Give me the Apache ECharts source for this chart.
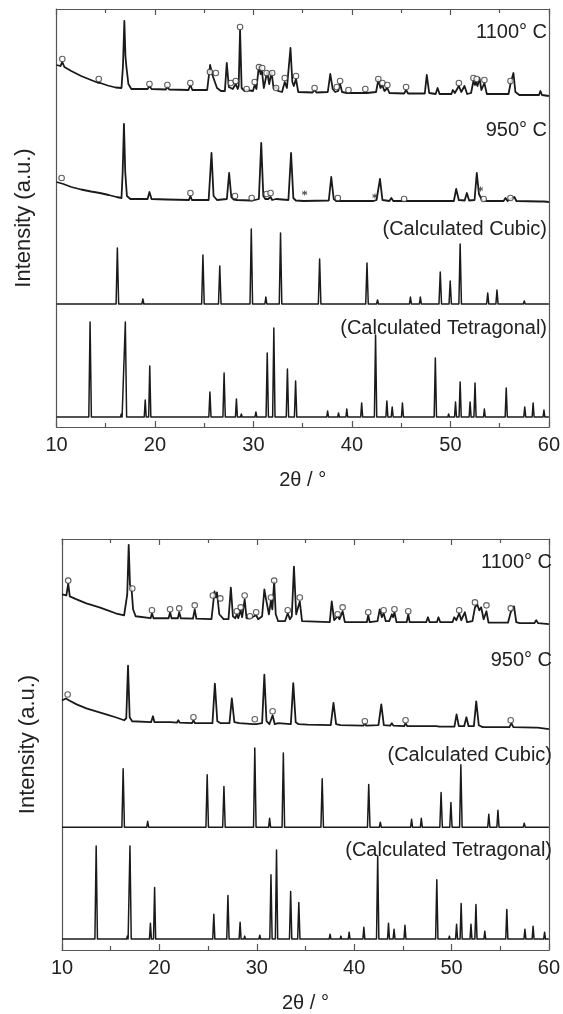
<!DOCTYPE html>
<html>
<head>
<meta charset="utf-8">
<title>XRD patterns</title>
<script src="https://cdn.jsdelivr.net/npm/echarts@6/dist/echarts.min.js"></script>
<style>
  html, body { margin: 0; padding: 0; background: #fff; overflow: hidden; }
  #chart { width: 563px; height: 1014px; }
</style>
</head>
<body>
<div id="chart"></div>
<script>
// ---- Axis ticks (2θ in degrees) ----
const X_MIN = 10;
const X_MAX = 60;
const X_STEP = 10;

// ---- Upper panel: traces as [2θ, intensity (a.u.)] vertices ----
const obs1100_A = [
  [10.0,31],[10.4,30],[10.59,34],[10.8,29],[11.5,25],[12.5,20],[13.5,16],[14.15,13.5],[14.3,15],[14.45,13],[15.2,10.5],[16.0,8.5],[16.6,8],[16.75,30],[16.89,75],[17.0,40],[17.1,29],[17.3,12],[17.6,7],
  [19.25,7],[19.44,10],[19.65,7],[21.1,6.5],[21.26,9],[21.45,6.5],[23.4,6],[23.59,11],[23.8,6],
  [25.3,6],[25.6,31],[25.8,22],[26.0,24],[26.3,8],[26.7,5],[27.1,5],[27.29,33],[27.5,9],[27.7,11],[27.9,7],[28.2,12],[28.4,7],[28.5,10],[28.64,66],[28.8,8],[29.1,5],[29.31,6],[29.5,4.5],[29.95,5],[30.12,11],[30.3,7],[30.56,31],[30.72,22],[30.85,26],[31.05,8],[31.39,24],[31.6,12],[31.84,24],[32.05,7],[32.3,9],[32.5,5],[32.9,4],[33.18,14],[33.4,8],[33.6,10],[33.76,48],[33.95,14],[34.1,10],[34.32,17],[34.55,4],
  [36.0,3.5],[36.2,6],[36.4,3.5],[37.55,4],[37.8,22],[38.05,7],[38.3,4],[38.46,6],[38.6,5],[38.8,12],[39.0,4],[39.5,3],[39.65,5],[39.8,3],
  [41.2,3],[41.36,5],[41.5,3],[42.45,4],[42.68,16],[42.9,8],[43.08,11],[43.3,5],[43.6,8],[43.8,3],[45.3,2.5],[45.5,6],[45.7,2.5],[47.4,2.5],[47.6,21],[47.85,3],[48.5,2],[48.7,8],[48.9,2],
  [50.1,2],[50.25,6],[50.45,3],[50.86,10],[51.1,4],[51.43,10],[51.7,2],[52.1,3],[52.34,15],[52.5,11],[52.6,14],[52.75,10],[52.95,18],[53.15,6],[53.45,13],[53.7,2],
  [55.9,2],[56.1,12],[56.25,10],[56.4,23],[56.6,4],[57.0,1],[59.0,1],[59.14,5],[59.3,1],[60.0,0]
];
const obs950_A = [
  [10.0,20],[10.35,19],[10.52,21],[10.7,18],[11.5,15],[12.5,12.5],[13.5,10.5],[14.4,9],[15.3,7],[16.1,5],[16.6,4],[16.72,30],[16.85,78],[16.98,30],[17.15,6],[17.5,3],
  [19.25,3],[19.44,10],[19.65,3],[21.2,2.5],[21.3,3.5],[21.4,2.5],[23.45,2],[23.6,6],[23.75,2],
  [25.45,2],[25.74,49],[25.95,6],[26.3,2],[27.3,3],[27.53,29],[27.75,5],[28.0,2.5],[28.13,3],[28.3,2],[29.7,1.5],[29.82,2.5],[29.95,1.5],[30.55,3],[30.79,59],[31.0,6],[31.2,3],[31.33,5],[31.5,3],[31.74,5],[31.9,2],[32.3,3],[32.5,1],[33.55,2],[33.82,49],[34.05,4],[34.3,1.5],
  [35.1,1],[35.2,3],[35.3,1],[37.65,1.5],[37.9,25],[38.15,3],[38.4,1],[38.57,2],[38.75,1],
  [42.2,1],[42.34,3],[42.5,2],[42.85,23],[43.1,2],[43.8,1],[44.0,4],[44.2,1],[45.2,1],[45.3,2],[45.45,1],[47.3,1],[47.4,3],[47.55,1],[48.3,1],[48.4,3],[48.55,1],
  [50.35,1],[50.59,13],[50.85,2],[51.45,1.5],[51.67,9],[51.9,1.5],[52.45,2],[52.68,29],[52.9,8],[53.05,6],[53.2,2],[53.38,2.5],[53.6,1],
  [55.4,1],[55.6,4],[55.8,1],[56.1,3],[56.5,5],[56.7,1],[59.1,0.5],[59.3,2],[59.5,0.5],[60.0,0]
];
const calcCubic_A = [
  [10,0],[16.05,0],[16.18,56],[16.31,0],[18.67,0],[18.77,5],[18.87,0],[24.74,0],[24.87,49],[25.0,0],[26.45,0],[26.58,38],[26.71,0],
  [29.65,0],[29.78,75],[29.91,0],[31.16,0],[31.26,7],[31.36,0],[32.62,0],[32.75,71],[32.88,0],[34.0,0],[34.09,1.5],[34.18,0],
  [36.59,0],[36.72,45],[36.85,0],[37.87,0],[37.95,1.5],[38.03,0],[41.4,0],[41.53,41],[41.66,0],[42.5,0],[42.6,4],[42.7,0],
  [45.84,0],[45.94,7],[46.04,0],[46.85,0],[46.95,7],[47.05,0],[48.84,0],[48.97,32],[49.1,0],[49.86,0],[49.98,23],[50.1,0],
  [50.86,0],[50.99,60],[51.12,0],[53.68,0],[53.79,11],[53.9,0],[54.62,0],[54.73,14],[54.84,0],[57.4,0],[57.5,3],[57.6,0],
  [58.52,0],[58.6,1],[58.68,0],[60,0]
];
const calcTetra_A = [
  [10,0],[13.28,0],[13.41,95],[13.54,0],[16.5,0],[16.58,3],[16.66,0],[16.86,0],[16.99,95],[17.12,0],[18.91,0],[19.01,17],[19.11,0],
  [19.36,0],[19.47,51],[19.58,0],[25.47,0],[25.58,25],[25.69,0],[26.9,0],[27.02,44],[27.14,0],[28.17,0],[28.27,18],[28.37,0],
  [28.69,0],[28.77,3],[28.85,0],[30.16,0],[30.25,5],[30.34,0],[31.28,0],[31.4,64],[31.52,0],[31.95,0],[32.07,89],[32.19,0],
  [33.33,0],[33.45,48],[33.57,0],[34.16,0],[34.28,36],[34.4,0],[37.44,0],[37.53,6],[37.62,0],[38.56,0],[38.64,4],[38.72,0],
  [39.39,0],[39.48,8],[39.57,0],[40.89,0],[40.99,14],[41.09,0],[42.28,0],[42.4,82],[42.52,0],[43.45,0],[43.55,16],[43.65,0],
  [43.99,0],[44.09,10],[44.19,0],[45.03,0],[45.13,14],[45.23,0],[48.35,0],[48.47,59],[48.59,0],[49.74,0],[49.82,3],[49.9,0],
  [50.42,0],[50.52,15],[50.62,0],[50.88,0],[50.99,35],[51.1,0],[51.9,0],[52.0,15],[52.1,0],[52.39,0],[52.5,34],[52.61,0],
  [53.36,0],[53.45,8],[53.54,0],[55.56,0],[55.67,29],[55.78,0],[57.45,0],[57.55,10],[57.65,0],[58.3,0],[58.4,14],[58.5,0],
  [59.41,0],[59.5,7],[59.59,0],[60,0]
];
// Phase markers, [2θ, intensity]
const rings1100_A = [[10.59,37],[14.29,17],[19.44,12],[21.26,11],[23.59,13],[25.58,24],[26.18,23],[27.7,13],[28.2,15],[28.64,69],[29.31,7],[30.12,14],[30.56,29],[30.89,28],[31.33,23],[31.9,23],[32.3,8],[33.18,18],[34.32,20],[36.21,8],[38.46,9],[38.8,15],[39.65,6],[41.36,7],[42.68,17],[43.1,13],[43.6,11],[45.5,9],[50.86,13],[52.34,18],[52.67,17],[53.45,16],[56.1,15]];
const rings950_A = [[10.52,24],[23.6,9],[28.13,6],[29.82,4],[31.33,8],[31.74,9],[38.57,4],[45.3,3],[53.38,3],[56.1,4]];
const stars950_A = [[35.2,9],[42.34,6],[53.05,13]];

// ---- Lower panel ----
const obs1100_B = [
  [10.0,30],[10.45,29],[10.64,41],[10.8,28],[11.5,25],[12.5,21],[13.85,17],[14.7,14],[15.5,11],[16.38,9],[16.7,30],[16.85,80],[16.98,40],[17.15,35],[17.3,15],[17.56,8],
  [19.1,6],[19.24,11],[19.4,6],[20.95,6],[21.1,12],[21.25,6],[21.9,6],[22.04,12],[22.2,6],[23.45,5.5],[23.63,15],[23.8,5.5],
  [25.35,5],[25.66,33],[25.8,27],[25.92,32],[26.15,10],[26.6,5],[27.1,5],[27.34,37],[27.55,8],[27.8,6],[27.95,10],[28.1,6],[28.35,14],[28.5,7],[28.76,25],[28.95,6],[29.3,6],[29.5,4],[29.94,9],[30.15,5],[30.55,8],[30.78,35],[30.92,27],[31.05,28],[31.25,10],[31.46,24],[31.6,15],[31.79,43],[31.95,10],[32.2,3],[32.9,3],[33.18,11],[33.4,5],[33.6,8],[33.82,58],[34.05,10],[34.2,9],[34.42,23],[34.65,3],
  [37.5,2],[37.7,23],[37.95,4],[38.31,8],[38.5,5],[38.82,13],[39.05,2],[41.3,2],[41.45,9],[41.6,2],[42.4,3],[42.63,15],[42.85,7],[43.03,11],[43.25,3],[43.6,3],[43.88,10],[44.0,7],[44.14,12],[44.35,2],[45.4,2],[45.56,10],[45.7,2],
  [47.4,2],[47.58,7],[47.75,2],[48.5,2],[48.66,7],[48.85,2],[50.1,2],[50.28,7],[50.5,4],[50.79,11],[51.0,4],[51.37,12],[51.6,2],[52.15,3],[52.41,17],[52.64,20],[52.85,14],[53.05,17],[53.3,5],[53.59,13],[53.8,1.5],
  [55.8,1.5],[56.08,12],[56.25,11],[56.42,18],[56.65,2],[57.0,1],[58.5,1],[58.7,4],[58.9,1],[60.0,0]
];
const obs950_B = [
  [10.0,29],[10.4,31],[10.58,33],[10.75,29],[11.5,25],[12.5,21],[13.85,17],[14.7,14.5],[15.5,12],[16.38,9],[16.6,11],[16.78,64],[16.95,12],[17.2,8],
  [19.15,7],[19.34,13],[19.5,7],[20.9,7],[21.03,9],[21.15,7],[21.8,6.5],[21.94,9],[22.1,6.5],[23.35,6],[23.5,9],[23.65,6],
  [25.45,6],[25.7,46],[25.95,8],[26.3,6],[27.2,6],[27.44,31],[27.7,7],[28.2,6],[29.65,5],[29.8,7],[29.95,5],[30.55,6],[30.78,55],[31.0,8],[31.3,5],[31.63,14],[31.85,5],[32.2,6],[32.4,4],[33.5,5],[33.75,46.5],[34.0,7],[34.3,5],
  [35.2,4.5],[37.6,4],[37.88,26.5],[38.15,5],[38.6,4],[40.95,3.5],[41.1,6],[41.25,3.5],[42.5,4],[42.79,25],[43.05,4],[43.7,3.5],[43.87,6],[44.05,3.5],[45.15,3],[45.28,6],[45.45,3],[47.3,3],[47.42,5],[47.55,3],[48.45,3],[48.6,5],[48.75,2.5],
  [50.3,2.5],[50.52,15],[50.75,3],[51.3,3],[51.53,12],[51.75,3],[52.3,3],[52.54,28],[52.8,4],[53.2,2],[55.2,2],[55.34,4],[55.5,2],[55.95,2],[56.15,6],[56.35,2],[58.55,1.5],[58.7,3],[58.85,1.5],[60.0,0]
];
const calcCubic_B = [
  [10,0],[16.15,0],[16.28,59],[16.41,0],[18.7,0],[18.8,6],[18.9,0],[24.78,0],[24.91,53],[25.04,0],[26.5,0],[26.63,41],[26.76,0],
  [29.67,0],[29.8,80],[29.93,0],[31.22,0],[31.32,9],[31.42,0],[32.6,0],[32.73,75],[32.86,0],[33.99,0],[34.08,1.5],[34.17,0],
  [36.59,0],[36.72,49],[36.85,0],[37.89,0],[37.97,1.5],[38.05,0],[41.37,0],[41.5,43],[41.63,0],[42.59,0],[42.69,5],[42.79,0],
  [43.62,0],[43.7,1],[43.78,0],[45.8,0],[45.9,8],[46.0,0],[46.8,0],[46.9,9],[47.0,0],[48.8,0],[48.93,35],[49.06,0],
  [49.82,0],[49.94,25],[50.06,0],[50.83,0],[50.96,63],[51.09,0],[53.72,0],[53.83,13],[53.94,0],[54.66,0],[54.77,17],[54.88,0],
  [55.6,0],[55.68,1.5],[55.76,0],[57.37,0],[57.47,4],[57.57,0],[58.47,0],[58.55,1],[58.63,0],[60,0]
];
const calcTetra_B = [
  [10,0],[13.38,0],[13.51,94],[13.64,0],[16.63,0],[16.71,3],[16.79,0],[16.85,0],[16.98,94],[17.11,0],[18.98,0],[19.08,16],[19.18,0],
  [19.4,0],[19.51,52],[19.62,0],[25.48,0],[25.59,25],[25.7,0],[26.92,0],[27.04,44],[27.16,0],[28.19,0],[28.29,17],[28.39,0],
  [28.68,0],[28.76,3],[28.84,0],[30.22,0],[30.31,4],[30.4,0],[31.34,0],[31.46,65],[31.58,0],[31.91,0],[32.03,90],[32.15,0],
  [33.36,0],[33.48,48],[33.6,0],[34.2,0],[34.32,37],[34.44,0],[37.44,0],[37.53,5],[37.62,0],[38.56,0],[38.64,3],[38.72,0],
  [39.4,0],[39.49,7],[39.58,0],[40.9,0],[41.0,12],[41.1,0],[42.3,0],[42.42,84],[42.54,0],[43.43,0],[43.53,16],[43.63,0],
  [44.0,0],[44.1,10],[44.2,0],[45.12,0],[45.22,14],[45.32,0],[48.37,0],[48.49,60],[48.61,0],[49.7,0],[49.78,3],[49.86,0],
  [50.42,0],[50.52,15],[50.62,0],[50.88,0],[50.99,36],[51.1,0],[51.9,0],[52.0,15],[52.1,0],[52.4,0],[52.51,35],[52.62,0],
  [53.33,0],[53.42,8],[53.51,0],[55.57,0],[55.68,30],[55.79,0],[57.44,0],[57.54,10],[57.64,0],[58.28,0],[58.38,13],[58.48,0],
  [59.47,0],[59.56,7],[59.65,0],[60,0]
];
const rings1100_B = [[10.64,44],[17.22,36],[19.24,14],[21.1,15],[22.04,16],[23.63,19],[25.49,29],[26.26,26],[27.95,13],[28.35,17],[28.76,29],[29.3,8],[29.94,12],[31.46,27],[31.79,44],[33.18,14],[34.42,27],[38.31,10],[38.82,17],[41.45,12],[43.03,14],[44.14,15],[45.56,13],[50.79,14],[52.41,22],[53.59,19],[56.08,16]];
const rings950_B = [[10.58,35],[23.5,12],[29.8,10],[31.63,18],[41.1,8],[45.28,9],[56.08,9]];

// ---- Trace labels ----
const traceLabels = ['1100° C', '950° C', '(Calculated Cubic)', '(Calculated Tetragonal)'];

// ---- Layout and styling ----
const FONT = '"Liberation Sans", Arial, Helvetica, sans-serif';
const INK = '#1a1a1a';
const AXIS = '#555';

const panels = [
  { grid: { left: 56.5, top: 9, width: 495.5, height: 418 }, yMax: 418,
    offsets: [331, 225, 123, 10], nameGapY: 22,
    traces: [obs1100_A, obs950_A, calcCubic_A, calcTetra_A],
    rings: [[rings1100_A, 331], [rings950_A, 225]], stars: [[stars950_A, 225]],
    labelRight: 547, labelY: [32, 130, 229, 328] },
  { grid: { left: 62, top: 539, width: 494, height: 415 }, yMax: 415,
    offsets: [329, 223, 124, 11], nameGapY: 23,
    traces: [obs1100_B, obs950_B, calcCubic_B, calcTetra_B],
    rings: [[rings1100_B, 329], [rings950_B, 223]], stars: [],
    labelRight: 552, labelY: [562, 660, 755, 850] }
];

const shift = (arr, dy) => arr.map(p => [p[0], p[1] + dy]);

const grid = [], xAxis = [], yAxis = [], series = [], graphic = [];

panels.forEach((p, i) => {
  grid.push(Object.assign({ containLabel: false }, p.grid));
  const tickCommon = {
    gridIndex: i, type: 'value', min: X_MIN, max: X_MAX, interval: X_STEP,
    axisLine: { show: true, onZero: false, lineStyle: { color: AXIS, width: 1.2 } },
    axisTick: { show: true, inside: true, length: 6, lineStyle: { color: AXIS, width: 1.2 } },
    minorTick: { show: true, splitNumber: 2, length: 4, lineStyle: { color: AXIS, width: 1.2 } },
    splitLine: { show: false }, minorSplitLine: { show: false }
  };
  xAxis.push(Object.assign({}, tickCommon, {
    position: 'bottom',
    axisLabel: { show: true, margin: 8, fontSize: 20, color: '#222', fontFamily: FONT },
    name: '2θ / °', nameLocation: 'middle', nameGap: 43,
    nameTextStyle: { fontSize: 20, color: '#222', fontFamily: FONT }
  }));
  xAxis.push(Object.assign({}, tickCommon, {
    position: 'top', axisLabel: { show: false }
  }));
  yAxis.push({
    gridIndex: i, type: 'value', min: 0, max: p.yMax, position: 'left',
    axisLine: { show: true, onZero: false, lineStyle: { color: AXIS, width: 1.2 } },
    axisTick: { show: false }, axisLabel: { show: false }, splitLine: { show: false },
    name: 'Intensity (a.u.)', nameLocation: 'middle', nameGap: p.nameGapY,
    nameTextStyle: { fontSize: 22, color: '#222', fontFamily: FONT }
  });
  yAxis.push({
    gridIndex: i, type: 'value', min: 0, max: p.yMax, position: 'right',
    axisLine: { show: true, onZero: false, lineStyle: { color: AXIS, width: 1.2 } },
    axisTick: { show: false }, axisLabel: { show: false }, splitLine: { show: false }
  });

  p.traces.forEach((t, k) => {
    series.push({
      type: 'line', xAxisIndex: i * 2, yAxisIndex: i * 2,
      data: shift(t, p.offsets[k]),
      showSymbol: false, symbol: 'none', smooth: false,
      lineStyle: { color: INK, width: k < 2 ? 1.8 : 1.5, join: 'round' },
      silent: true, z: 2
    });
  });
  p.rings.forEach(([pts, off]) => {
    series.push({
      type: 'scatter', xAxisIndex: i * 2, yAxisIndex: i * 2,
      data: shift(pts, off), symbol: 'circle', symbolSize: 5.5,
      itemStyle: { color: '#fff', borderColor: '#3a3a3a', borderWidth: 1.1 },
      silent: true, z: 3
    });
  });
  p.stars.forEach(([pts, off]) => {
    series.push({
      type: 'scatter', xAxisIndex: i * 2, yAxisIndex: i * 2,
      data: shift(pts, off),
      symbol: 'path://M0,-5L0,5M-4.33,-2.5L4.33,2.5M-4.33,2.5L4.33,-2.5', symbolSize: 5,
      itemStyle: { color: 'rgba(0,0,0,0)', borderColor: '#333', borderWidth: 1.1 },
      silent: true, z: 3
    });
  });

  traceLabels.forEach((txt, k) => {
    graphic.push({
      type: 'text', x: p.labelRight, y: p.labelY[k], silent: true, z: 10,
      style: { text: txt, fill: '#222', font: '20px ' + FONT, align: 'right', verticalAlign: 'middle' }
    });
  });
});

const chart = echarts.init(document.getElementById('chart'), null, { renderer: 'canvas' });
chart.setOption({
  backgroundColor: '#fff',
  animation: false,
  grid, xAxis, yAxis, series, graphic
});
</script>
</body>
</html>
